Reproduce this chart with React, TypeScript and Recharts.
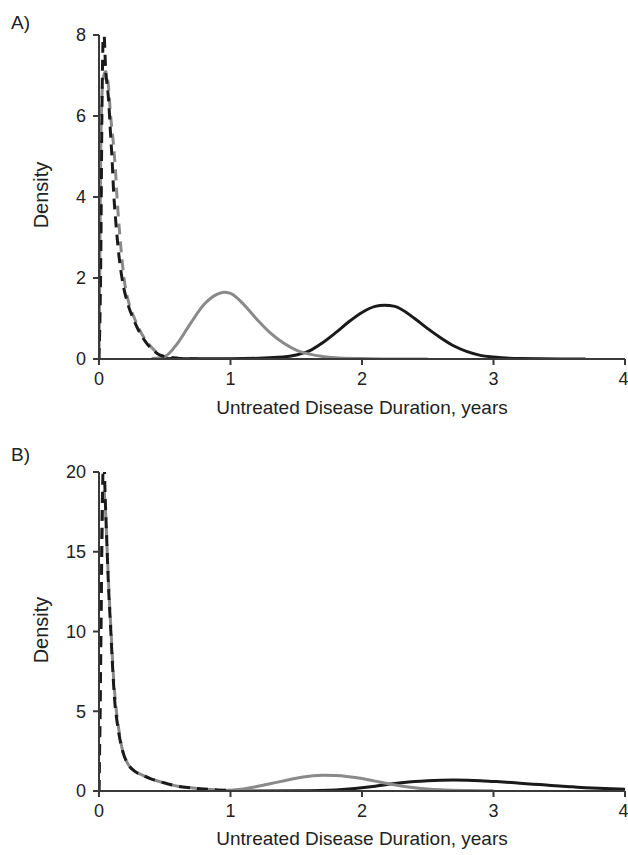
import React from "react";
import { LineChart, Line, XAxis, YAxis } from "recharts";

// ---------- Panel A ----------
const aBlackDashX = [0, 0.015, 0.022, 0.028, 0.035, 0.05, 0.075, 0.087, 0.1, 0.11, 0.13, 0.15, 0.18, 0.22, 0.26, 0.31, 0.36, 0.41, 0.46, 0.52, 0.6, 0.75];
const aBlackDashY = [0, 3.0, 6.0, 7.5, 8.2, 7.2, 6.3, 5.6, 4.9, 4.2, 3.3, 2.6, 1.9, 1.35, 1.0, 0.65, 0.4, 0.22, 0.1, 0.05, 0.02, 0];
const aGreyDashX = [0, 0.008, 0.015, 0.03, 0.05, 0.072, 0.087, 0.11, 0.125, 0.138, 0.16, 0.19, 0.23, 0.27, 0.32, 0.37, 0.42, 0.47, 0.5];
const aGreyDashY = [0, 3.0, 5.5, 6.9, 7.1, 6.74, 6.06, 5.3, 4.67, 3.94, 3.0, 2.0, 1.35, 1.0, 0.65, 0.4, 0.22, 0.1, 0.06];
const aGreySolidX = [0.4, 0.5, 0.6, 0.7, 0.8, 0.9, 0.95, 1.0, 1.1, 1.2, 1.3, 1.4, 1.5, 1.6, 1.7, 1.8, 2.0, 2.2, 2.5];
const aGreySolidY = [0.01, 0.06, 0.4, 0.9, 1.35, 1.6, 1.65, 1.62, 1.35, 0.98, 0.65, 0.4, 0.22, 0.12, 0.06, 0.03, 0.01, 0, 0];
const aBlackSolidX = [0.45, 1.0, 1.4, 1.5, 1.6, 1.7, 1.8, 1.9, 2.0, 2.1, 2.17, 2.25, 2.4, 2.5, 2.6, 2.7, 2.8, 2.9, 3.0, 3.2, 3.5, 3.7];
const aBlackSolidY = [0.01, 0.005, 0.05, 0.1, 0.2, 0.4, 0.65, 0.92, 1.15, 1.3, 1.33, 1.3, 1.0, 0.75, 0.52, 0.32, 0.18, 0.09, 0.05, 0.01, 0, 0];
const aYTicks = [0, 2, 4, 6, 8];

// ---------- Panel B ----------
const bBlackDashX = [0, 0.01, 0.02, 0.03, 0.036, 0.048, 0.06, 0.074, 0.087, 0.1, 0.12, 0.14, 0.18, 0.22, 0.27, 0.33, 0.4, 0.5, 0.6, 0.7, 0.8, 0.9, 1.0];
const bBlackDashY = [0, 6, 14, 20, 21, 18.2, 15.5, 12.5, 10.5, 8.3, 5.6, 4.2, 2.5, 1.7, 1.25, 1.0, 0.75, 0.5, 0.3, 0.2, 0.12, 0.07, 0.04];
const bGreyDashX = [0, 0.008, 0.015, 0.022, 0.03, 0.04, 0.05, 0.065, 0.08, 0.095, 0.11, 0.13, 0.15, 0.18, 0.22, 0.27, 0.33, 0.4, 0.5, 0.6, 0.7, 0.8, 0.9, 1.0];
const bGreyDashY = [0, 6, 12, 17, 19, 18.7, 17.5, 14.5, 11.8, 9.5, 7.2, 5.2, 3.9, 2.5, 1.7, 1.25, 1.0, 0.75, 0.5, 0.3, 0.2, 0.12, 0.07, 0.04];
const bGreySolidX = [0.9, 1.0, 1.1, 1.2, 1.3, 1.4, 1.5, 1.6, 1.7, 1.8, 1.9, 2.0, 2.1, 2.2, 2.3, 2.4, 2.5, 2.6, 2.8, 3.0];
const bGreySolidY = [0.02, 0.05, 0.12, 0.28, 0.45, 0.63, 0.8, 0.92, 0.98, 0.97, 0.9, 0.78, 0.62, 0.46, 0.32, 0.21, 0.13, 0.08, 0.03, 0.01];
const bBlackSolidX = [1.0, 1.5, 1.8, 1.9, 2.0, 2.1, 2.2, 2.3, 2.4, 2.5, 2.6, 2.7, 2.8, 2.9, 3.0, 3.1, 3.2, 3.3, 3.4, 3.5, 3.6, 3.7, 3.8, 3.9, 4.0];
const bBlackSolidY = [0.0, 0.02, 0.07, 0.12, 0.2, 0.3, 0.42, 0.52, 0.6, 0.65, 0.68, 0.69, 0.68, 0.65, 0.6, 0.55, 0.49, 0.43, 0.37, 0.31, 0.26, 0.21, 0.17, 0.14, 0.11];
const bYTicks = [0, 5, 10, 15, 20];

const xTicks = [0, 1, 2, 3, 4];
const xTitle = "Untreated Disease Duration, years";
const yTitle = "Density";

const zip = (xs: number[], ys: number[]) => xs.map((x, i) => ({ x, y: ys[i] }));

const BLACK = "#1a1a1a";
const GREY = "#8a8a8a";
const AXIS = "#3a3a3a";
const FONT = "'Liberation Sans', Arial, sans-serif";
const tickStyle = { fontSize: 18, fill: "#222", fontFamily: FONT };

type Series = { data: { x: number; y: number }[]; color: string; dashed: boolean; offset?: number };

function Panel({ top, height, marginTop, yMax, yTicks, series }: { top: number; height: number; marginTop: number; yMax: number; yTicks: number[]; series: Series[] }) {
  return (
    <div style={{ position: "absolute", left: 0, top }}>
      <LineChart width={628} height={height} margin={{ top: marginTop, right: 3, bottom: 10, left: 0 }}>
        <XAxis
          type="number"
          dataKey="x"
          domain={[0, 4]}
          ticks={xTicks}
          allowDataOverflow
          stroke={AXIS}
          strokeWidth={2}
          tickSize={6}
          tickMargin={7}
          tick={tickStyle}
          height={30}
        />
        <YAxis
          type="number"
          dataKey="y"
          domain={[0, yMax]}
          ticks={yTicks}
          allowDataOverflow
          stroke={AXIS}
          strokeWidth={2}
          tickSize={6}
          tickMargin={7}
          tick={tickStyle}
          width={99}
        />
        {series.map((s, i) => (
          <Line
            key={i}
            data={s.data}
            dataKey="y"
            type="monotone"
            stroke={s.color}
            strokeWidth={3}
            strokeDasharray={s.dashed ? "11 7" : undefined}
            strokeDashoffset={s.offset ?? 0}
            dot={false}
            activeDot={false}
            isAnimationActive={false}
          />
        ))}
      </LineChart>
    </div>
  );
}

const textBase: React.CSSProperties = { position: "absolute", fontFamily: FONT, color: "#222", lineHeight: 1, whiteSpace: "nowrap" };

export default function App() {
  const seriesA: Series[] = [
    { data: zip(aBlackSolidX, aBlackSolidY), color: BLACK, dashed: false },
    { data: zip(aGreySolidX, aGreySolidY), color: GREY, dashed: false },
    { data: zip(aGreyDashX, aGreyDashY), color: GREY, dashed: true, offset: 9 },
    { data: zip(aBlackDashX, aBlackDashY), color: BLACK, dashed: true },
  ];
  const seriesB: Series[] = [
    { data: zip(bBlackSolidX, bBlackSolidY), color: BLACK, dashed: false },
    { data: zip(bGreySolidX, bGreySolidY), color: GREY, dashed: false },
    { data: zip(bGreyDashX, bGreyDashY), color: GREY, dashed: true, offset: 0 },
    { data: zip(bBlackDashX, bBlackDashY), color: BLACK, dashed: true },
  ];
  return (
    <div style={{ position: "absolute", left: 0, top: 0, width: 628, height: 855, background: "#fff", overflow: "hidden" }}>
      <Panel top={0} height={399} marginTop={35} yMax={8} yTicks={aYTicks} series={seriesA} />
      <Panel top={432} height={399} marginTop={40} yMax={20} yTicks={bYTicks} series={seriesB} />

      <div style={{ ...textBase, left: 11, top: 13, fontSize: 19 }}>A)</div>
      <div style={{ ...textBase, left: 11, top: 445, fontSize: 19 }}>B)</div>

      <div style={{ ...textBase, left: 362, top: 398, fontSize: 19, transform: "translateX(-50%)" }}>{xTitle}</div>
      <div style={{ ...textBase, left: 362, top: 829, fontSize: 19, transform: "translateX(-50%)" }}>{xTitle}</div>

      <div style={{ ...textBase, left: 41, top: 195, fontSize: 20, transform: "translate(-50%, -50%) rotate(-90deg)" }}>{yTitle}</div>
      <div style={{ ...textBase, left: 41, top: 630, fontSize: 20, transform: "translate(-50%, -50%) rotate(-90deg)" }}>{yTitle}</div>
    </div>
  );
}
